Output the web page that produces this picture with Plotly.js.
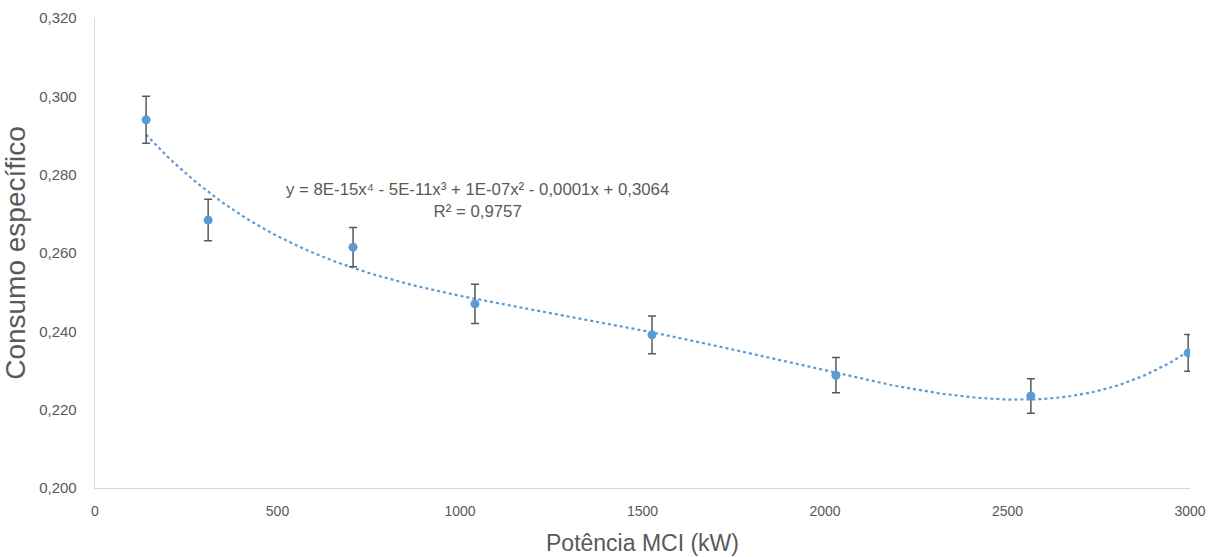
<!DOCTYPE html>
<html>
<head>
<meta charset="utf-8">
<script src="https://cdn.plot.ly/plotly-3.0.1.min.js"></script>
<style>html,body{margin:0;padding:0;background:#fff;}#chart{width:1215px;height:557px;}</style>
</head>
<body>
<div id="chart"></div>
<script>
// Data
const potencia = [140, 310, 707, 1041, 1526, 2030, 2564, 2995];
const consumo = [0.2940, 0.2684, 0.2615, 0.2470, 0.2391, 0.2288, 0.2235, 0.2345];
const erro = [0.0060, 0.0053, 0.0050, 0.0050, 0.0048, 0.0045, 0.0044, 0.0047];
const yTicks = [0.200, 0.220, 0.240, 0.260, 0.280, 0.300, 0.320];
const xTicks = [0, 500, 1000, 1500, 2000, 2500, 3000];
const equationText = "y = 8E-15x\u2074 - 5E-11x\u00b3 + 1E-07x\u00b2 - 0,0001x + 0,3064<br>R\u00b2 = 0,9757";

// 4th-degree polynomial least-squares trendline (as Excel computes it)
function polyfit(xs, ys, deg) {
  const s = 1000;
  const n = deg + 1;
  const A = Array.from({length: n}, () => new Array(n + 1).fill(0));
  for (let k = 0; k < xs.length; k++) {
    const u = xs[k] / s;
    const p = [];
    for (let i = 0; i < n; i++) p.push(Math.pow(u, i));
    for (let i = 0; i < n; i++) {
      for (let j = 0; j < n; j++) A[i][j] += p[i] * p[j];
      A[i][n] += p[i] * ys[k];
    }
  }
  for (let i = 0; i < n; i++) {
    let m = i;
    for (let r = i + 1; r < n; r++) if (Math.abs(A[r][i]) > Math.abs(A[m][i])) m = r;
    [A[i], A[m]] = [A[m], A[i]];
    for (let r = 0; r < n; r++) {
      if (r === i) continue;
      const f = A[r][i] / A[i][i];
      for (let c = i; c <= n; c++) A[r][c] -= f * A[i][c];
    }
  }
  const coef = A.map((row, i) => row[n] / row[i]);
  return x => coef.reduce((acc, c, i) => acc + c * Math.pow(x / s, i), 0);
}
const fit = polyfit(potencia, consumo, 4);
const trendX = [];
const trendY = [];
const x0 = potencia[0], x1 = potencia[potencia.length - 1];
for (let i = 0; i <= 200; i++) {
  const x = x0 + (x1 - x0) * i / 200;
  trendX.push(x);
  trendY.push(fit(x));
}

const blue = '#5B9BD5';
const grey = '#595959';
const font = 'Liberation Sans, Arial, sans-serif';

const traces = [
  {
    x: trendX, y: trendY, type: 'scatter', mode: 'lines',
    line: {color: blue, width: 2.2, dash: 'dot'},
    hoverinfo: 'skip', showlegend: false
  },
  {
    x: potencia, y: consumo, type: 'scatter', mode: 'markers',
    marker: {color: blue, size: 9},
    error_y: {type: 'data', array: erro, visible: true, color: grey, thickness: 1.5, width: 4},
    showlegend: false
  }
];

const layout = {
  width: 1215, height: 557,
  margin: {l: 95, r: 25, t: 18, b: 69},
  paper_bgcolor: '#ffffff', plot_bgcolor: '#ffffff',
  separators: ',.',
  font: {family: font, color: grey, size: 14},
  xaxis: {
    range: [0, 3000], tickvals: xTicks, ticktext: xTicks.map(String),
    showgrid: false, zeroline: false, showline: true, linecolor: '#D9D9D9', linewidth: 1.3,
    ticks: '', ticklabelstandoff: 10, tickfont: {size: 14, color: grey, family: font},
    title: {text: 'Potência MCI (kW)', font: {size: 23, color: grey, family: font}, standoff: 16}
  },
  yaxis: {
    range: [0.200, 0.320], tickvals: yTicks, tickformat: '.3f',
    showgrid: false, zeroline: false, showline: true, linecolor: '#D9D9D9', linewidth: 1.3,
    ticks: '', ticklabelstandoff: 14, tickfont: {size: 15, color: grey, family: font},
    title: {text: 'Consumo específico', font: {size: 28, color: grey, family: font}, standoff: 8}
  },
  annotations: [{
    x: 1047, y: 0.2733, xref: 'x', yref: 'y', text: equationText, showarrow: false,
    align: 'center', font: {size: 16.8, color: grey, family: font}
  }]
};

Plotly.newPlot('chart', traces, layout, {displayModeBar: false, staticPlot: true});
</script>
</body>
</html>
